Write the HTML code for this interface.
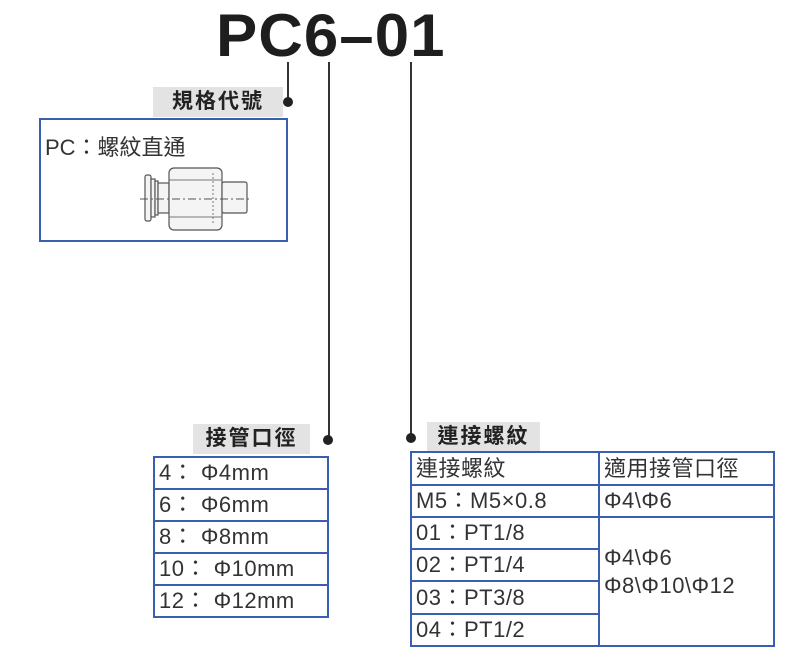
<!DOCTYPE html>
<html><head><meta charset="utf-8"><style>
body{margin:0;width:800px;height:654px;background:#fff;position:relative;overflow:hidden;font-family:"Liberation Sans","Noto Sans CJK TC",sans-serif;color:#333}
.a{position:absolute}
.lbl{position:absolute;background:#e3e3e3;font-size:21px;font-weight:bold;color:#222;text-align:center;line-height:30px;letter-spacing:2px}
.dot{position:absolute;width:10px;height:10px;border-radius:50%;background:#222}
.vl{position:absolute;width:2px;background:#333}
table{position:absolute;border-collapse:collapse}
td{border:2px solid #3a5fb0;font-size:22px;line-height:24px;height:30px;padding:0 4px;color:#333;white-space:nowrap;letter-spacing:0.5px;overflow:hidden}
</style></head><body>
<div class="a" style="left:216px;top:1px;font-size:60px;font-weight:900;color:#1e1e1e;letter-spacing:1px;font-family:'Liberation Sans',sans-serif;transform:scaleX(1.03);transform-origin:left">PC6–01</div>
<div class="vl" style="left:287px;top:62px;height:40px"></div>
<div class="dot" style="left:283px;top:97px"></div>
<div class="vl" style="left:328px;top:62px;height:378px"></div>
<div class="dot" style="left:323px;top:435px"></div>
<div class="vl" style="left:410px;top:62px;height:376px"></div>
<div class="dot" style="left:406px;top:433px"></div>

<div class="lbl" style="left:153px;top:87px;width:130px">規格代號</div>
<div class="a" style="left:39px;top:118px;width:245px;height:120px;border:2px solid #3a5fb0"></div>
<div class="a" style="left:45px;top:130px;font-size:22px;color:#333">PC：螺紋直通</div>
<svg class="a" style="left:140px;top:165px" width="120" height="70" viewBox="0 0 120 70">
<g fill="#f4f4f4" stroke="#555" stroke-width="1.2">
<rect x="5" y="10" width="6" height="46" rx="2"/>
<rect x="11" y="14" width="4" height="38"/>
<rect x="15" y="16" width="3" height="34"/>
<rect x="18" y="18" width="11" height="30"/>
<rect x="29" y="3" width="53" height="62" rx="5"/>
<rect x="82" y="17" width="25" height="31" rx="2"/>
</g>
<line x1="29" y1="15" x2="82" y2="15" stroke="#777"/>
<line x1="29" y1="52" x2="82" y2="52" stroke="#777"/>
<line x1="0" y1="34" x2="112" y2="34" stroke="#555" stroke-dasharray="8,3,2,3"/>
<line x1="73" y1="8" x2="73" y2="60" stroke="#777" stroke-dasharray="2,2"/>
</svg>

<div class="lbl" style="left:193px;top:424px;width:117px">接管口徑</div>
<table style="left:153px;top:456px;width:176px">
<tr><td>4：&nbsp;Φ4mm</td></tr>
<tr><td>6：&nbsp;Φ6mm</td></tr>
<tr><td>8：&nbsp;Φ8mm</td></tr>
<tr><td>10：&nbsp;Φ10mm</td></tr>
<tr><td>12：&nbsp;Φ12mm</td></tr>
</table>

<div class="lbl" style="left:427px;top:422px;width:113px">連接螺紋</div>
<table style="left:410px;top:451px;width:365px">
<tr><td style="width:178px;height:31px">連接螺紋</td><td>適用接管口徑</td></tr>
<tr><td>M5：M5×0.8</td><td>Φ4\Φ6</td></tr>
<tr><td>01：PT1/8</td><td rowspan="4" style="vertical-align:top;padding-top:26px;line-height:28px">Φ4\Φ6<br>Φ8\Φ10\Φ12</td></tr>
<tr><td>02：PT1/4</td></tr>
<tr><td style="height:31px">03：PT3/8</td></tr>
<tr><td>04：PT1/2</td></tr>
</table>
</body></html>
